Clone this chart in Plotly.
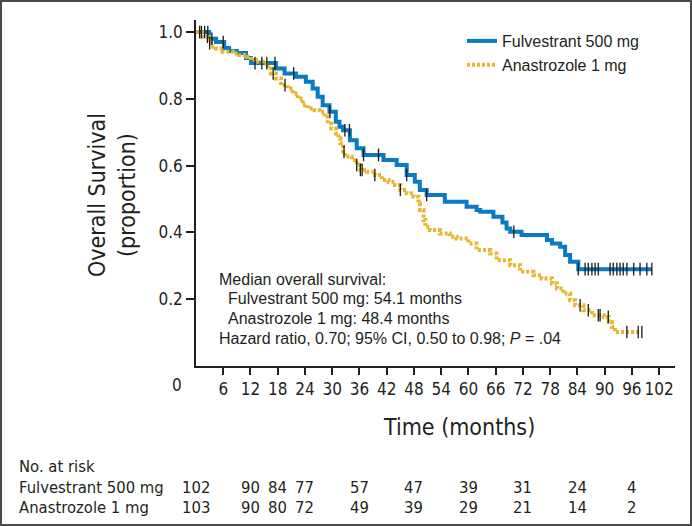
import numpy as np
import plotly.graph_objects as go

# Kaplan-Meier steps (months, proportion surviving)
fulv_t = [0, 2.9, 4.4, 6.2, 7.3, 9.0, 11.0, 12.1, 17.6, 19.5, 22.0, 24.2, 25.7, 26.8, 27.9,
          29.4, 30.8, 31.6, 32.4, 33.9, 35.4, 36.9, 41.3, 44.2, 46.4, 48.2, 49.3, 50.8, 54.8,
          59.6, 61.8, 62.6, 65.5, 67.5, 68.4, 69.2, 71.7, 77.3, 78.4, 80.2, 81.3, 82.4, 84.2, 100.4]
fulv_s = [1.0, 0.980, 0.970, 0.952, 0.943, 0.937, 0.922, 0.907, 0.891, 0.876, 0.866, 0.851, 0.831, 0.806, 0.781,
          0.761, 0.731, 0.716, 0.706, 0.676, 0.652, 0.632, 0.617, 0.602, 0.572, 0.552, 0.527, 0.512, 0.492,
          0.477, 0.467, 0.462, 0.447, 0.430, 0.412, 0.402, 0.392, 0.377, 0.367, 0.357, 0.332, 0.312, 0.290, 0.290]

anas_t = [0, 1.5, 2.9, 3.3, 4.4, 5.9, 8.1, 9.5, 11.1, 12.1, 13.2, 14.7, 15.8, 16.5, 17.6, 18.7,
          20.2, 21.3, 22.4, 23.5, 24.6, 26.1, 27.2, 28.3, 29.0, 29.8, 30.8, 31.4, 31.8, 32.4, 32.8,
          34.3, 35.4, 36.2, 37.6, 39.4, 40.9, 42.4, 43.8, 45.0, 46.4, 47.9, 49.0, 49.3, 50.1, 50.5,
          51.5, 53.7, 55.9, 57.4, 60.0, 61.8, 64.8, 66.2, 69.2, 71.4, 74.3, 76.1, 78.4, 79.5, 80.9,
          82.4, 83.5, 85.3, 87.2, 89.8, 90.9, 91.6, 92.3, 98.2]
anas_s = [1.0, 0.986, 0.966, 0.956, 0.951, 0.941, 0.936, 0.931, 0.926, 0.916, 0.911, 0.906, 0.891, 0.876, 0.861, 0.841,
          0.831, 0.816, 0.801, 0.781, 0.771, 0.766, 0.761, 0.746, 0.726, 0.711, 0.696, 0.681, 0.667, 0.642, 0.627,
          0.617, 0.602, 0.587, 0.582, 0.572, 0.557, 0.552, 0.542, 0.527, 0.517, 0.507, 0.487, 0.467, 0.437, 0.417,
          0.407, 0.397, 0.387, 0.382, 0.367, 0.347, 0.337, 0.317, 0.302, 0.282, 0.272, 0.262, 0.247, 0.232, 0.217,
          0.197, 0.182, 0.167, 0.152, 0.147, 0.132, 0.117, 0.102, 0.102]

# censoring times
fulv_cens = [1.2, 1.9, 2.6, 3.5, 6.0, 13.0, 14.5, 15.6, 17.4, 21.5, 29.5, 32.8, 33.8, 36.9, 40.2, 46.4,
             50.8, 70.0, 84.2, 85.7, 86.4, 87.2, 87.9, 88.6, 91.2, 91.9, 92.7, 93.4, 94.1, 94.9,
             96.4, 97.8, 99.3, 100.4]
anas_cens = [0.8, 2.5, 3.0, 17.0, 19.6, 32.6, 35.4, 36.2, 36.6, 39.4, 45.0, 84.6, 86.4, 88.6, 89.0,
             90.8, 94.9, 97.4, 98.2]

# number at risk table
risk_times = [0, 12, 18, 24, 36, 48, 60, 72, 84, 96]
fulv_risk = [102, 90, 84, 77, 57, 47, 39, 31, 24, 4]
anas_risk = [103, 90, 80, 72, 49, 39, 29, 21, 14, 2]

x_ticks = list(range(6, 103, 6))
y_ticks = [0.2, 0.4, 0.6, 0.8, 1.0]

stats_lines = [
    "Median overall survival:",
    "Fulvestrant 500 mg: 54.1 months",
    "Anastrozole 1 mg: 48.4 months",
    "Hazard ratio, 0.70; 95% CI, 0.50 to 0.98; <i>P</i> = .04",
]

BLUE = "#0a7ac2"
GOLD = "#e6b630"
INK = "#231f20"
NARROW = "Liberation Sans Narrow, DejaVu Sans Condensed, Arial Narrow, sans-serif"
SANS = "Liberation Sans, Arial, Helvetica, sans-serif"


def step_value(times, surv, at):
    idx = np.searchsorted(np.array(times), np.array(at), side="right") - 1
    return np.array(surv)[idx]


fig = go.Figure()

fig.add_trace(go.Scatter(x=fulv_t, y=fulv_s, mode="lines", line_shape="hv",
                         line=dict(color=BLUE, width=4), name="Fulvestrant 500 mg"))
fig.add_trace(go.Scatter(x=anas_t, y=anas_s, mode="lines", line_shape="hv",
                         line=dict(color=GOLD, width=4, dash="3px,2px"), name="Anastrozole 1 mg"))

for cens, t, s in [(fulv_cens, fulv_t, fulv_s), (anas_cens, anas_t, anas_s)]:
    fig.add_trace(go.Scatter(
        x=cens, y=step_value(t, s, cens), mode="markers", showlegend=False, hoverinfo="skip",
        marker=dict(symbol="line-ns", size=9, line=dict(width=1.3, color="#1a1a1a")),
    ))

W, H = 692, 526
L, R, T, B = 196, 17, 20, 160
pw, ph = W - L - R, H - T - B


def px(xp):
    return (xp - L) / pw


def py(yp):
    return (H - B - yp) / ph


def text_ann(x, y, text, size, family=NARROW, xanchor="center", **kw):
    return dict(x=x, y=y, xref="paper", yref="paper", text=text, showarrow=False,
                xanchor=xanchor, yanchor="middle", font=dict(family=family, size=size, color=INK), **kw)


ann = []
# origin label
ann.append(dict(x=0, y=0, xref="x", yref="y", text="0", showarrow=False, xshift=-19, yshift=-19,
                xanchor="center", yanchor="middle", font=dict(family=NARROW, size=17, color=INK)))
# axis titles
ann.append(text_ann(px(459), py(427), "Time (months)", 23))
ann.append(text_ann(px(112), py(195), "Overall Survival<br>(proportion)", 23, textangle=-90))
# statistics block
for i, line in enumerate(stats_lines):
    indent = 226 if i in (1, 2) else 217
    ann.append(text_ann(px(indent), py(279 + 19.7 * i), line, 16, family=SANS, xanchor="left"))
# at-risk table
ann.append(text_ann(px(17), py(466), "No. at risk", 16.5, xanchor="left"))
for label, vals, yy in [("Fulvestrant 500 mg", fulv_risk, 487), ("Anastrozole 1 mg", anas_risk, 507)]:
    ann.append(text_ann(px(17), py(yy), label, 16.5, xanchor="left"))
    for tt, v in zip(risk_times, vals):
        ann.append(dict(x=tt, y=py(yy), xref="x", yref="paper", text=str(v), showarrow=False,
                        xanchor="center", yanchor="middle", font=dict(family=NARROW, size=16.5, color=INK)))

fig.update_layout(
    width=W, height=H,
    margin=dict(l=L, r=R, t=T, b=B, pad=0),
    plot_bgcolor="white", paper_bgcolor="white",
    showlegend=True,
    legend=dict(x=px(462), y=py(24), xanchor="left", yanchor="top", bgcolor="rgba(0,0,0,0)",
                font=dict(family=SANS, size=16, color=INK), tracegroupgap=0),
    annotations=ann,
    shapes=[dict(type="rect", xref="paper", yref="paper", x0=px(1), x1=px(691), y0=py(525), y1=py(1),
                 line=dict(color="#4a4a4a", width=2))],
)

axis_common = dict(showline=True, linecolor=INK, linewidth=1.5, ticks="outside", tickcolor=INK,
                   tickwidth=1.5, showgrid=False, zeroline=False, automargin=False)
fig.update_xaxes(range=[0, 105.5], tickvals=x_ticks, ticklen=7,
                 tickfont=dict(family=NARROW, size=17, color=INK), **axis_common)
fig.update_yaxes(range=[0, 1.036], tickvals=y_ticks, ticktext=[f"{v:.1f}" for v in y_ticks], ticklen=8,
                 tickfont=dict(family=NARROW, size=17, color=INK), **axis_common)

fig.write_html("out.html", config={"displayModeBar": False},
               post_script="document.body.style.margin='0';")
